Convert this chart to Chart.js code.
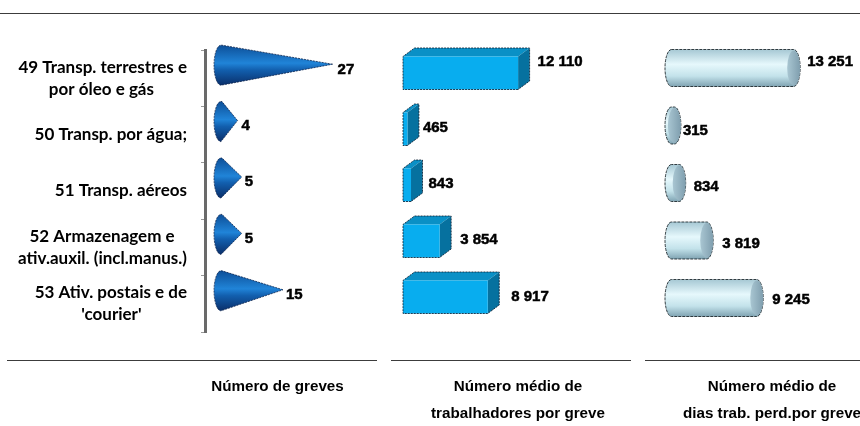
<!DOCTYPE html>
<html lang="pt">
<head>
<meta charset="utf-8">
<title>Greves por atividade</title>
<script src="https://cdn.jsdelivr.net/npm/chart.js@4"></script>
<style>
html,body{margin:0;padding:0;background:#fff;width:860px;height:426px;overflow:hidden}
canvas{position:absolute;top:0}
#topRule{position:absolute;left:0;top:13px;width:860px;height:1px;background:#3c3c3c}
</style>
</head>
<body>
<div id="topRule"></div>
<canvas id="c1" width="385" height="440" style="left:0"></canvas>
<canvas id="c2" width="255" height="440" style="left:385px"></canvas>
<canvas id="c3" width="240" height="440" style="left:640px"></canvas>
<script>
const categories = [
  ['49 Transp. terrestres e', 'por óleo e gás'],
  ['50 Transp. por água;'],
  ['51 Transp. aéreos'],
  ['52 Armazenagem e', 'ativ.auxil. (incl.manus.)'],
  ["53 Ativ. postais e de", "'courier'"]
];
const strikes = [27, 4, 5, 5, 15];
const workers = [12110, 465, 843, 3854, 8917];
const daysLost = [13251, 315, 834, 3819, 9245];
const titleStrikes = 'Número de greves';
const titleWorkers = ['Número médio de', 'trabalhadores por greve'];
const titleDays = ['Número médio de', 'dias trab. perd.por greve'];

const H = 440;
const TICK_SIZE = 17;
const TICK_FONT = 'bold ' + TICK_SIZE + 'px Lato';
const VALUE_FONT = 'bold 15px "Liberation Sans"';
const titleFont = {family: '"Liberation Sans"', size: 15.2, weight: 'bold', lineHeight: 27 / 15.2};
const fmt = v => String(v).replace(/\B(?=(\d{3})+$)/g, ' ');

function drawCone(ctx, bar) {
  const dx = 16, dy = -13, ry = bar.height / 2, rx = 7;
  const bx = bar.base + dx, cy = bar.y + dy, tip = bar.x + dx;
  const g = ctx.createLinearGradient(0, cy - ry, 0, cy + ry);
  g.addColorStop(0, '#0d4f98');
  g.addColorStop(0.45, '#2084d8');
  g.addColorStop(0.62, '#125fae');
  g.addColorStop(1, '#0a2f6a');
  ctx.beginPath();
  ctx.moveTo(tip, cy - 1);
  ctx.lineTo(bx + 1, cy - ry);
  ctx.ellipse(bx, cy, rx, ry, 0, -Math.PI / 2, Math.PI / 2, true);
  ctx.closePath();
  ctx.fillStyle = g;
  ctx.fill();
  ctx.lineWidth = 1;
  ctx.setLineDash([2, 1]);
  ctx.strokeStyle = 'rgba(8,30,70,.75)';
  ctx.stroke();
  ctx.setLineDash([]);
  return tip;
}

function drawBox(ctx, bar) {
  const dx = 11.5, dy = -8.5, top = bar.y - bar.height / 2, bot = bar.y + bar.height / 2;
  const l = bar.base, r = bar.x;
  ctx.lineWidth = 1;
  ctx.fillStyle = '#0a90c6';
  ctx.beginPath();
  ctx.moveTo(l, top); ctx.lineTo(l + dx, top + dy); ctx.lineTo(r + dx, top + dy); ctx.lineTo(r, top);
  ctx.closePath(); ctx.fill();
  ctx.fillStyle = '#06719f';
  ctx.beginPath();
  ctx.moveTo(r, top); ctx.lineTo(r + dx, top + dy); ctx.lineTo(r + dx, bot + dy); ctx.lineTo(r, bot);
  ctx.closePath(); ctx.fill();
  ctx.fillStyle = '#08adef';
  ctx.fillRect(l, top, r - l, bot - top);
  ctx.setLineDash([2, 1]);
  ctx.strokeStyle = 'rgba(15,35,55,.85)';
  ctx.beginPath();
  ctx.moveTo(r, bot); ctx.lineTo(l, bot); ctx.lineTo(l, top); ctx.lineTo(l + dx, top + dy);
  ctx.lineTo(r + dx, top + dy); ctx.lineTo(r + dx, bot + dy); ctx.lineTo(r, bot);
  ctx.stroke();
  ctx.setLineDash([]);
  return r + dx;
}

function drawCylinder(ctx, bar) {
  const rx = 6.5, ry = bar.height / 2, y = bar.y, l = bar.base, r = bar.x;
  const g = ctx.createLinearGradient(0, y - ry, 0, y + ry);
  g.addColorStop(0, '#a6c8d4');
  g.addColorStop(0.4, '#e6f8fc');
  g.addColorStop(0.72, '#c3e2ea');
  g.addColorStop(1, '#7fa3b2');
  ctx.beginPath();
  ctx.ellipse(l, y, rx, ry, 0, -Math.PI / 2, Math.PI / 2, true);
  ctx.ellipse(r, y, rx, ry, 0, Math.PI / 2, -Math.PI / 2, true);
  ctx.closePath();
  ctx.fillStyle = g;
  ctx.fill();
  ctx.lineWidth = 1;
  ctx.setLineDash([3, 1]);
  ctx.strokeStyle = 'rgba(20,30,35,.85)';
  ctx.stroke();
  ctx.setLineDash([]);
  const c = ctx.createLinearGradient(r - rx, 0, r + rx, 0);
  c.addColorStop(0, '#a9c6d2');
  c.addColorStop(1, '#7f9eae');
  ctx.beginPath();
  ctx.ellipse(r, y, rx, ry - 1, 0, 0, Math.PI * 2);
  ctx.fillStyle = c;
  ctx.fill();
  return r + rx;
}

const shapesPlugin = {
  id: 'shapes',
  beforeInit(chart, args, o) { chart.ctx.letterSpacing = o.spacing; },
  beforeDatasetDraw(chart, args, o) {
    const ctx = chart.ctx;
    ctx.save();
    chart.getDatasetMeta(args.index).data.forEach((bar, i) => {
      const end = o.shape(ctx, bar);
      ctx.save();
      ctx.letterSpacing = '0px';
      ctx.font = VALUE_FONT;
      ctx.fillStyle = '#000';
      ctx.strokeStyle = '#000';
      ctx.lineWidth = 0.5;
      ctx.textAlign = 'left';
      ctx.textBaseline = 'middle';
      const text = fmt(chart.data.datasets[args.index].data[i]);
      const x = end + o.nudgeX[i], y = bar.y + o.nudgeY[i];
      ctx.fillText(text, x, y);
      ctx.strokeText(text, x, y);
      ctx.restore();
    });
    ctx.restore();
    return false;
  },
  afterDraw(chart, args, o) {
    const ctx = chart.ctx;
    ctx.save();
    ctx.strokeStyle = '#3c3c3c';
    ctx.lineWidth = 1;
    ctx.beginPath();
    ctx.moveTo(o.rule[0], 360.5);
    ctx.lineTo(o.rule[1], 360.5);
    ctx.stroke();
    ctx.restore();
  }
};

function centredLines(value, index, ticksList) {
  const ctx = this.chart.ctx;
  const lines = categories[index];
  ctx.save();
  ctx.font = TICK_FONT;
  const widest = Math.max(...lines.map(t => ctx.measureText(t).width));
  const space = ctx.measureText(' ').width;
  const out = lines.map(t => t + ' '.repeat(Math.round((widest - ctx.measureText(t).width) / 2 / space)));
  ctx.restore();
  return out;
}

function makeChart(id, values, maxX, thickness, color, title, pad, plotBottom, plugOpts, yScale) {
  return new Chart(document.getElementById(id), {
    type: 'bar',
    data: {
      labels: categories.map(c => c.join(' ')),
      datasets: [{data: values, backgroundColor: color, barThickness: thickness}]
    },
    options: {
      indexAxis: 'y',
      responsive: false,
      animation: false,
      layout: {padding: pad},
      plugins: {legend: {display: false}, tooltip: {enabled: false}, shapes: plugOpts},
      scales: {
        x: {
          min: 0, max: maxX,
          grid: {display: false},
          border: {display: false},
          ticks: {display: false},
          title: {display: true, text: title, color: '#000', font: titleFont,
                  padding: {top: 0, bottom: H - (Array.isArray(title) ? 414 : 387) - 13.5}},
          afterFit(s) { s.height = H - plotBottom; }
        },
        y: yScale
      }
    },
    plugins: [shapesPlugin]
  });
}

makeChart('c1', strikes, 35.1, 40, '#1a6fc0', titleStrikes,
  {top: 50, left: 0, right: 35, bottom: 0}, 332,
  {shape: drawCone, spacing: '-0.35px', rule: [7, 377],
   nudgeX: [5, 4, 3, 3, 3], nudgeY: [-8, -9, -9, -9, -9]},
  {
    display: true,
    afterFit(s) { s.width = 205; },
    border: {display: true, color: '#6a6a6a', width: 3},
    grid: {drawOnChartArea: false, drawTicks: true, tickLength: 4, tickColor: '#999', offset: true},
    ticks: {color: '#000', font: {family: 'Lato', size: TICK_SIZE, weight: 'bold', lineHeight: 22 / TICK_SIZE},
            padding: 14, autoSkip: false, callback: centredLines}
  });

makeChart('c2', workers, 24200, 33, '#08adef', titleWorkers,
  {top: 45, left: 18, right: 7, bottom: 0}, 325,
  {shape: drawBox, spacing: '-0.35px', rule: [6, 246],
   nudgeX: [8, 4, 6, 9, 12], nudgeY: [-11, -1, -1, -1, 0]},
  {display: false});

makeChart('c3', daysLost, 21800, 37, '#c3e2ea', titleDays,
  {top: 39.25, left: 31.5, right: 7.5, bottom: 0}, 326.75,
  {shape: drawCylinder, spacing: '-0.35px', rule: [5, 220],
   nudgeX: [7, 2, 8, 9, 9], nudgeY: [-6, 5, 4, 3.5, 2]},
  {display: false});
</script>
</body>
</html>
